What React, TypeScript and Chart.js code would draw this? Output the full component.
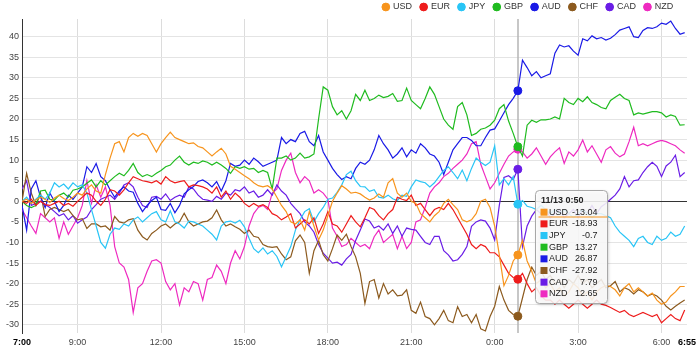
import React, { useEffect, useRef } from 'react';
import { Chart, registerables } from 'chart.js';

Chart.register(...registerables);

const SERIES_NAMES = ['USD', 'EUR', 'JPY', 'GBP', 'AUD', 'CHF', 'CAD', 'NZD'];
const SERIES_COLORS = ['#f7941d', '#ee1c1c', '#29c5f6', '#1fbb1f', '#1a1ae6', '#8c5a1e', '#6a1de6', '#ee2ac0'];

// values every 10 minutes from 7:00
const USD = [
  0, 0.5, -0.5, 0.3, 1, 0.5, -0.3, 0.8, 1.5, 0.7, 0.2, 1,
  2, 1.5, 3, 4, 2.5, 2, 6.5, 10.5, 14, 14.5, 12, 15.5,
  16.5, 15.8, 16.5, 16, 14, 12, 14, 15.5, 16.8, 15.5, 15, 14.5,
  14, 14.2, 13.3, 13, 12, 11, 12, 12.9, 11.5, 8.5, 7.8, 7,
  6.2, 5.5, 4.5, 3.8, 3.5, 3.8, 3, 1, -1, -2.5, -5, -5.5,
  -4.5, -7, -2.5, -6, -9.4, -7, -3.5, 0, 2, 3.8, 3, 2,
  2.2, 1.8, 1, 0.3, 0.8, 1.8, 1, 4.5, 5.5, 2, 1, 2,
  0, -0.5, -3, -4, -5, -3.5, -2.5, -0.5, 0.5, -0.8, -2, -4.5,
  -5, -4.5, -3, 0, 0.5, -1.5, -6, -13, -20.5, -18, -14.5, -13.04,
  -9.5, -14.5, -17, -20, -19, -21, -20, -22, -21, -23, -22, -20,
  -21, -23, -22, -24, -22, -21, -20.5, -20.7, -21.5, -23, -21, -20,
  -22, -21, -22, -23, -22.3, -24, -25, -24.5, -23, -22, -20.7, -20.7,
];
const EUR = [
  0, -0.5, 0.5, -1, 0, -0.8, -1, -0.5, 0, -1, -0.5, -1.2,
  0, 1, 2, 1.5, 0, -1, 0.5, 2.8, 2.5, 1.5, 2.8, 4.5,
  6, 5.5, 5, 4.8, 4.5, 5, 4.2, 6, 5, 4.5, 4.8, 5,
  3.5, 4, 3.8, 3.5, 3, 2, 3.5, 1, 2.5, 0.5, 2, 1,
  -0.5, -1.3, -0.5, -1.2, -0.8, -1.5, -3, -3.5, -4.5, -3.8, -3, -6.5,
  -5.5, -4.5, -5.5, -4, -7.8, -5.5, -2.5, -5.5, -6, -7.5, -5.5, -3.5,
  -5, -6.2, -4, -1.5, -2, -3.5, -4.5, -3, -2, 1, 0.5, 0.2,
  1.5, -1, -0.5, -2, -3.5, -2, -1.5, -2, -0.5, -2, -4, -6,
  -8, -10.5, -11.5, -10.5, -11, -12.5, -12.5, -13.5, -15.5, -17.5, -18.5, -18.93,
  -17.5, -20, -22, -21, -23, -24, -24, -25, -24, -25, -26, -25,
  -24, -25, -26, -25, -24, -25, -25.3, -25.8, -26.4, -27, -26.5, -27.5,
  -28, -27.5, -27, -27.5, -28, -27.5, -29.5, -28.5, -27.5, -28.5, -29, -26.4,
];
const JPY = [
  0, 1, -0.5, 0.5, 1.5, 0.5, 2, 4.5, 3.5, 4.2, 3, 4.5,
  3.5, 4, 2, -2, -6, -10, -11.4, -8, -6.5, -6.8, -5.5, -6,
  -4.5, -3.8, -5, -4, -3, -2.5, -4.5, -5, -2.3, -5, -5.5, -6.5,
  -4.8, -5, -5.5, -6, -7, -8, -9.4, -6, -5, -4.8, -5.3, -4.6,
  -6.2, -9, -11.5, -12.5, -11.3, -12.8, -12, -13.4, -15.9, -13.5, -11, -7,
  -4.5, -2.5, -1.8, -5, -3, -1.5, 0.5, 0.8, 2.2, 4, 6.5, 7.3,
  5, 3.6, 3.5, 2.4, 2.8, 1, 0.8, 1.5, 0.6, 0.2, 1.5, 1.2,
  3.5, 5.2, 4.8, 4.5, 3.5, 4.5, 6, 7.5, 8.4, 7, 5.5, 7.6,
  5, 8, 10.5, 9.5, 8.7, 9.5, 13.5, 4, 5.5, 4, 6, -0.7,
  0.2, -1.2, -1.5, -2, -1, -2, -3, -2, -3, -2, -3, -4,
  -3, -2, -3, -4, -3, -3, -3.5, -4, -6, -7.5, -8.5, -9.5,
  -11, -9, -8.5, -10, -10.5, -8.5, -9.5, -9, -7.5, -8.5, -8, -6,
];
const GBP = [
  0, -1, -1.5, -1, 2.5, 2.7, 0.5, 0.3, 1.5, 2, 1, 2.7,
  3, 3.5, 4.4, 5.2, 3.5, 5, 4, 5, 6, 6.8, 6.2, 7.5,
  9.2, 7, 6, 6.5, 6, 6.8, 7.5, 8.4, 8.8, 10, 11, 9.5,
  8.8, 9.5, 9.2, 9.8, 9.5, 8.8, 9.5, 8.8, 8, 6.8, 8.4, 8,
  8.4, 7.8, 8, 7, 7.5, 7, 3, 10.5, 10.5, 11, 10, 10.5,
  11.7, 10.5, 10.8, 11.5, 20, 27.8, 27, 23, 21, 22, 20, 22,
  26, 24.5, 27, 24.5, 25, 25.8, 25.2, 25.5, 26.2, 24.3, 24.5, 27.5,
  24.5, 23.5, 22.5, 25, 27.8, 26, 23, 20, 18.5, 17.5, 23, 24,
  21, 16, 16.5, 17.5, 17.8, 18.5, 19.7, 22.5, 23.5, 19.5, 16.5, 13.27,
  11, 18.5, 19.7, 19.2, 19.8, 19.8, 20, 20.5, 20, 25, 24, 23.5,
  25, 24.2, 25.4, 24, 23.5, 22.8, 22.5, 24.5, 25.3, 26, 25, 24.5,
  21, 21.5, 21.2, 21.5, 21.8, 21.8, 21.5, 20.5, 21, 20.6, 18.5, 18.6,
];
const AUD = [
  -1, -7, 3, 5, 1, -1.5, 2, 0, -2.5, -1, 1.5, 0.5,
  2, 3.5, 8.4, 7, 9.2, 6, 5, 2.8, 1, 2.5, 3.5, 2.5,
  2.2, -0.5, -2.5, -1, 0.2, 1, -2, -2.2, -0.5, -2.8, -1, 1.8,
  2.8, 3.6, 4.8, 5.2, 4.5, 3.5, 4.8, 2.5, 5, 9.2, 8.5, 8.8,
  10, 9, 10.5, 9.6, 8.5, 9, 9.5, 10, 15.5, 14, 15, 14.5,
  16.5, 17, 14.5, 13.5, 16, 12, 10, 8, 6.5, 5.3, 6, 5.5,
  8, 9.5, 9, 10, 12.5, 16, 14, 12.5, 10.5, 11.5, 13, 10.8,
  12.5, 11.7, 14, 13, 11.5, 11, 9.5, 6.5, 9.5, 12.5, 14, 15.5,
  15.5, 14.8, 13.5, 13.5, 15.5, 17.3, 17.6, 19.5, 21.5, 23.5, 25, 26.87,
  34.3, 32.5, 30.5, 31.5, 30, 30.5, 31, 36, 38, 37.5, 37.8, 36.5,
  35.5, 39.5, 39, 40.2, 39.5, 39.8, 39.2, 39.6, 40.5, 41.6, 42, 42.4,
  40, 39.8, 41.5, 42.2, 42, 42.4, 43.3, 43, 43.8, 42, 40.6, 41,
];
const CHF = [
  0, 6.8, 2, -1, 2, -3.7, -2, -1.5, -2, -2.5, -2, -3.5,
  -4.5, -4.2, -6.6, -5.5, -5.5, -6.2, -6, -7, -3.7, -5, -5.3, -4.5,
  -4.2, -7, -8.6, -9.4, -7.8, -7, -6, -5.5, -6.5, -5.5, -5, -2.9,
  -5, -6, -5.5, -5, -4.8, -4, -2.1, -4.5, -6, -5.5, -6.2, -6.8,
  -7.8, -7, -8.5, -8.8, -10.5, -11, -11.2, -11, -12.8, -14.2, -13.5, -9.6,
  -8.2, -10, -17.5, -12, -9.5, -13, -14.5, -11.5, -8.2, -9.5, -8, -11,
  -13.5, -17.5, -24.8, -19.5, -19, -23.5, -20, -22.5, -21.5, -23, -22.8, -21.5,
  -26.5, -27.2, -24.5, -28, -28.5, -30, -28.5, -26.5, -29, -29.5, -25.6, -28,
  -27.5, -29.5, -27.5, -31, -31.5, -28, -25.5, -20.7, -24, -26.5, -27.5, -27.92,
  -23.5, -19, -16, -18, -17, -19, -18, -20, -19, -21, -19, -20,
  -18, -20, -19, -21, -20, -19, -21, -20.5, -19.5, -22, -21, -21.5,
  -22.5, -21.5, -22, -23, -22.5, -23, -24, -25.5, -26.4, -25.5, -24.7, -24,
];
const CAD = [
  3, 5, -1, -0.5, 0, -0.8, -1.5, -2.5, -3.5, -3, -4.5, -3.5,
  -5.3, -4.5, -3.8, -2, -0.8, 0.5, 1, 1.5, 0.5, 2, 4, 4.5,
  3.5, 1, -1, -1.5, 1, 1.2, 0.5, 1.8, 0.2, 1, 1.5, 1,
  3.5, 3, 1.5, 0.5, 0.3, 0, 1.2, 0.5, 2, 1.5, 2.8, 2.5,
  3.5, 2, 2.5, 1, 1.5, 2.8, 1.5, 4, 2.5, 1.5, -0.5, -1.8,
  -3, -5, -6, -7.5, -10.5, -12.6, -13.8, -15, -14.8, -15.5, -14, -12.9,
  -9.5, -7, -4.3, -4.8, -6.5, -6, -7, -5.5, -7.8, -6, -8.5, -6.5,
  -6.8, -7, -8.5, -10, -10.5, -8.5, -8.5, -12, -13, -14.5, -14.2, -12.9,
  -11, -6.1, -5, -4.5, -4.8, -6.5, -9.4, -1, 5.8, 6.2, 5.3, 7.79,
  -11, -6, -3.6, -2, -3, -2, -4, -3, -2, -4, -3, -2,
  -4, -2, -3, -1, -3, -1.3, -0.5, 0.5, 1.5, 3, 6, 3.5,
  5, 5.2, 7, 8.4, 9.5, 8.5, 6, 8.6, 9.5, 11.2, 6, 7,
];
const NZD = [
  -2, -4, -6, -7.8, -3, -4, -5, -4, -9, -5, -8, -6,
  -4, -1, 5, -0.5, 4, 1, 3.5, -1, -11, -15, -16, -19,
  -27, -21, -20, -17, -14.5, -14.2, -15, -19.5, -21.5, -20, -25.2, -21,
  -22, -19.5, -20, -24, -19, -18.5, -15.5, -17, -20, -15, -12, -14,
  -11, -6, -3, -1.5, -1, -2, 2, 3, 7.5, 10, 11.7, 7,
  4.5, 6, 5, 2, 2.8, 2, 0.5, -6.5, -8.5, -11, -10.5, -9,
  -10, -11, -10.5, -11.5, -8.6, -7, -10, -9, -8, -11.5, -8.5, -11.5,
  -10, -5, -4.5, -1.5, 2, 3.5, 4.5, 6, 6.8, 8, 9, 10,
  11.5, 14, 14.5, 9, 6, 3, 4.5, 6.8, 9, 11, 12, 12.65,
  12, 10.5, 11.5, 13, 11, 9, 10.8, 12, 13, 9.2, 12, 11,
  12.5, 14.9, 12, 13.5, 11.5, 9.5, 12.5, 13.3, 11.7, 10.8, 11.5, 14.5,
  18, 13.5, 14, 13.5, 14, 14.5, 14.8, 14.5, 14, 13.5, 12.5, 11.7,
];

const SERIES_VALUES = [USD, EUR, JPY, GBP, AUD, CHF, CAD, NZD];
// minutes after 7:00
const TIMES = USD.map((_, i) => i * 10);
const X_MAX = 1435;
const X_TICK_VALUES = [0, 120, 300, 480, 660, 840, 1020, 1200, 1380, 1435];
const X_TICK_LABELS = ['7:00', '9:00', '12:00', '15:00', '18:00', '21:00', '0:00', '3:00', '6:00', '6:55'];
const Y_TICKS = [-30, -25, -20, -15, -10, -5, 0, 5, 10, 15, 20, 25, 30, 35, 40];
const HOVER_INDEX = 107;
const HOVER_TITLE = '11/13 0:50';

const FONT = 'Arial, "Liberation Sans", sans-serif';

const isEndTick = (v: any) => v === X_TICK_VALUES[0] || v === X_TICK_VALUES[X_TICK_VALUES.length - 1];

const legendPatch = {
  id: 'legendPatch',
  beforeInit(chart: any) {
    const lg = chart.legend;
    if (lg) {
      const orig = lg.fit.bind(lg);
      lg.fit = function () {
        orig();
        this.height = 25.3;
      };
    }
  },
  afterLayout(chart: any) {
    if (chart.legend) chart.legend.right -= 6;
  },
};

const crosshair = {
  id: 'crosshair',
  beforeDatasetsDraw(chart: any) {
    const { ctx, chartArea, scales } = chart;
    const px = Math.round(scales.x.getPixelForValue(TIMES[HOVER_INDEX]));
    ctx.save();
    ctx.strokeStyle = '#b4b4b4';
    ctx.lineWidth = 1.5;
    ctx.beginPath();
    ctx.moveTo(px, chartArea.top);
    ctx.lineTo(px, chartArea.bottom);
    ctx.stroke();
    ctx.restore();
  },
};

const hoverBox = {
  id: 'hoverBox',
  afterDraw(chart: any) {
    const { ctx, chartArea, scales } = chart;
    const px = scales.x.getPixelForValue(TIMES[HOVER_INDEX]);
    const left = Math.round(px + 17) + 0.5;
    const top = Math.round(chartArea.top + 171) + 0.5;
    const w = 72;
    const h = 113;
    const r = 4;
    ctx.save();
    ctx.beginPath();
    ctx.moveTo(left + r, top);
    ctx.lineTo(left + w - r, top);
    ctx.quadraticCurveTo(left + w, top, left + w, top + r);
    ctx.lineTo(left + w, top + h - r);
    ctx.quadraticCurveTo(left + w, top + h, left + w - r, top + h);
    ctx.lineTo(left + r, top + h);
    ctx.quadraticCurveTo(left, top + h, left, top + h - r);
    ctx.lineTo(left, top + r);
    ctx.quadraticCurveTo(left, top, left + r, top);
    ctx.closePath();
    ctx.shadowColor = 'rgba(0,0,0,0.25)';
    ctx.shadowBlur = 3;
    ctx.shadowOffsetX = 1;
    ctx.shadowOffsetY = 1;
    ctx.fillStyle = 'rgba(255,255,255,0.85)';
    ctx.fill();
    ctx.shadowColor = 'rgba(0,0,0,0)';
    ctx.strokeStyle = '#a8a8a8';
    ctx.lineWidth = 1;
    ctx.stroke();

    ctx.textBaseline = 'middle';
    ctx.fillStyle = '#222';
    ctx.textAlign = 'left';
    ctx.font = `bold 9px ${FONT}`;
    ctx.fillText(HOVER_TITLE, left + 5.5, top + 10);

    ctx.font = `9px ${FONT}`;
    chart.data.datasets.forEach((ds: any, k: number) => {
      const cy = top + 21.7 + k * 11.66;
      ctx.fillStyle = ds.borderColor;
      ctx.fillRect(left + 5, cy - 3.5, 7, 7);
      ctx.fillStyle = '#222';
      ctx.textAlign = 'left';
      ctx.fillText(ds.label, left + 13.5, cy);
      ctx.textAlign = 'right';
      ctx.fillText(String(ds.data[HOVER_INDEX]), left + 62, cy);
    });
    const ly = top + 26.5;
    ctx.strokeStyle = chart.data.datasets[0].borderColor;
    ctx.lineWidth = 1;
    ctx.beginPath();
    ctx.moveTo(left + 3, ly);
    ctx.lineTo(left + w, ly);
    ctx.stroke();
    ctx.restore();
  },
};

export default function App() {
  const canvasRef = useRef<HTMLCanvasElement | null>(null);

  useEffect(() => {
    if (!canvasRef.current) return;
    const datasets = SERIES_NAMES.map((name, k) => ({
      label: name,
      data: SERIES_VALUES[k],
      borderColor: SERIES_COLORS[k],
      backgroundColor: SERIES_COLORS[k],
      borderWidth: 1.2,
      tension: 0,
      pointRadius: (c: any) => (c.dataIndex === HOVER_INDEX ? 4 : 0),
      pointBackgroundColor: SERIES_COLORS[k],
      pointBorderColor: SERIES_COLORS[k],
      pointBorderWidth: 1,
      pointHoverRadius: 4,
    }));

    const chart = new Chart(canvasRef.current, {
      type: 'line',
      data: { labels: TIMES, datasets },
      options: {
        animation: false,
        responsive: false,
        devicePixelRatio: 1,
        events: [],
        layout: { padding: { top: -6.3, left: 0, right: 12, bottom: 0 } },
        font: { family: FONT },
        plugins: {
          legend: {
            position: 'top',
            align: 'end',
            labels: {
              usePointStyle: true,
              pointStyle: 'circle',
              boxWidth: 5.5,
              boxHeight: 5.5,
              padding: 8.8,
              color: '#333',
              font: { size: 9, family: FONT },
            },
          },
          tooltip: { enabled: false },
        },
        scales: {
          x: {
            type: 'linear',
            min: 0,
            max: X_MAX,
            afterBuildTicks: (s: any) => {
              s.ticks = X_TICK_VALUES.map((v) => ({ value: v }));
            },
            afterFit: (s: any) => {
              s.height = 21;
            },
            ticks: {
              autoSkip: false,
              maxRotation: 0,
              padding: 4,
              callback: (v: any) => X_TICK_LABELS[X_TICK_VALUES.indexOf(v)],
              font: (c: any) => ({
                size: 9,
                family: FONT,
                weight: c.tick && isEndTick(c.tick.value) ? 'bold' : 'normal',
              }),
              color: (c: any) => (c.tick && isEndTick(c.tick.value) ? '#000' : '#444'),
            },
            grid: {
              drawTicks: false,
              color: (c: any) => (c.tick && isEndTick(c.tick.value) ? 'rgba(0,0,0,0)' : '#dcdcdc'),
              lineWidth: 1,
            },
            border: { display: false },
          },
          y: {
            type: 'linear',
            min: -32,
            max: 44.3,
            afterBuildTicks: (s: any) => {
              s.ticks = Y_TICKS.map((v) => ({ value: v }));
            },
            afterFit: (s: any) => {
              s.width = 22;
            },
            ticks: {
              padding: 3,
              color: '#444',
              font: { size: 9, family: FONT },
            },
            grid: {
              drawTicks: false,
              color: (c: any) => (c.tick && c.tick.value === 0 ? '#333' : '#e4e4e4'),
              lineWidth: 1,
            },
            border: { display: true, color: '#333', width: 1 },
          },
        },
      } as any,
      plugins: [legendPatch, crosshair, hoverBox],
    });
    return () => chart.destroy();
  }, []);

  return (
    <div style={{ position: 'fixed', left: 0, top: 0, width: 700, height: 354, background: '#fff' }}>
      <canvas ref={canvasRef} width={700} height={354} style={{ display: 'block' }} />
    </div>
  );
}
